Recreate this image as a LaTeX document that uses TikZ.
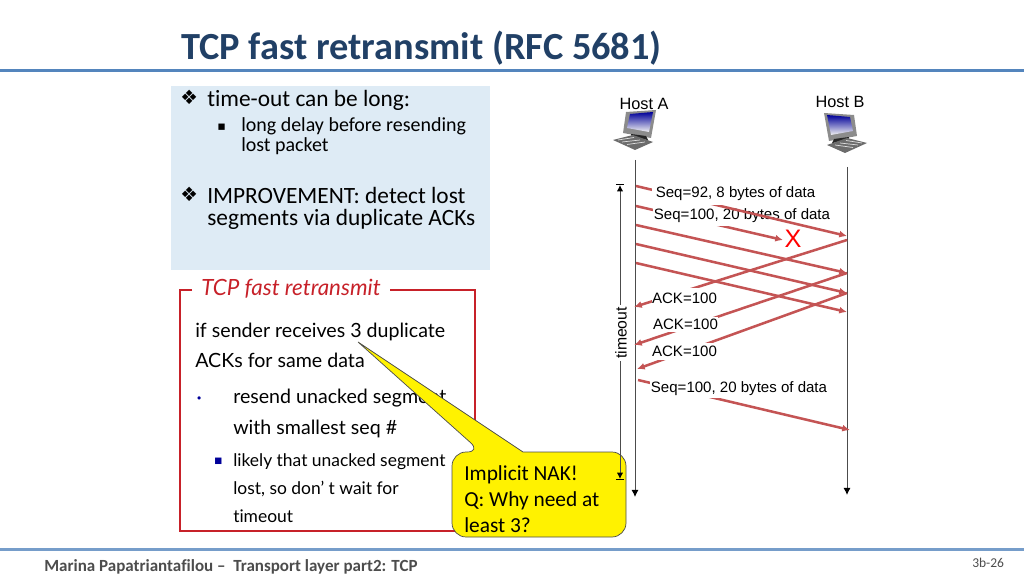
\documentclass[tikz,border=0pt]{standalone}
\usepackage{fontspec}
\setmainfont[Ligatures=NoCommon]{Carlito}
\newfontfamily\arialfont{Liberation Sans}
\newfontfamily\gillfont[Ligatures=NoCommon]{Lato}
\newfontfamily\symfont{DejaVu Sans}
\usetikzlibrary{arrows.meta,calc}
\definecolor{TitleClr}{rgb}{0.13,0.25,0.40}
\definecolor{RuleClr}{rgb}{0.33,0.52,0.74}
\definecolor{NoteClr}{rgb}{0.87,0.92,0.96}
\definecolor{FrameClr}{rgb}{0.78,0.13,0.16}
\definecolor{SegClr}{rgb}{0.77,0.33,0.33}
\definecolor{LineClr}{rgb}{0.30,0.30,0.30}
\definecolor{FootClr}{rgb}{0.30,0.30,0.30}
\definecolor{BulletClr}{rgb}{0,0,0.6}
\tikzset{
  seg/.style={color=SegClr,line width=1.8pt,-{Latex[length=5.5pt,width=5pt]}},
  timeline/.style={color=LineClr,line width=0.7pt,-{Latex[black,length=5pt,width=5pt]}},
  txt/.style={anchor=base west,inner sep=0pt,text=black},
  notetxt/.style={txt,font=\fontsize{16.6}{20}\selectfont},
  subtxt/.style={txt,font=\fontsize{14.2}{17}\selectfont},
  gilltxt/.style={txt,font=\gillfont\fontsize{13.95}{16}\selectfont},
  gillsub/.style={txt,font=\gillfont\fontsize{12.4}{14}\selectfont},
  nak/.style={txt,font=\fontsize{15.2}{18}\selectfont},
  hosttxt/.style={anchor=base,inner sep=0pt,font=\arialfont\fontsize{11.6}{14}\selectfont},
  seqtxt/.style={fill=white,inner sep=0pt,minimum height=14pt,font=\arialfont\fontsize{10.7}{12}\selectfont},
  hostpc/.pic={
    \fill[gray!90] (13,2) -- (43,0) -- (38,28) -- (10,23) -- cycle;
    \shade[top color=blue!60!black,bottom color=gray!10] (17,4) -- (40,2) -- (36,22) -- (14,18) -- cycle;
    \fill[black!85] (18,24) -- (33,26) -- (35,30) -- (19,28) -- cycle;
    \fill[gray!85!black] (0,30) -- (20,25) -- (40,32) -- (22,40) -- cycle;
    \draw[gray!25,line width=0.5pt] (5,30) -- (21,27.5) (9,32) -- (27,30) (14,34.5) -- (32,32);
  }
}

\begin{document}
\begin{tikzpicture}[x=0.025cm,y=-0.025cm]
\useasboundingbox (0,0) rectangle (1024,576);

% header and footer
\coordinate (ruleTL) at (0,70.5);
\coordinate (ruleTR) at (1024,70.5);
\coordinate (ruleBL) at (0,549.5);
\coordinate (ruleBR) at (1024,549.5);
\draw[RuleClr,line width=2pt] (ruleTL) -- (ruleTR);
\draw[RuleClr!80,line width=2pt] (ruleBL) -- (ruleBR);

\node[txt,text=TitleClr,font=\bfseries\fontsize{27.3}{30}\selectfont] (title) at (181,60) {TCP fast retransmit (RFC 5681)};
\node[txt,text=FootClr,font=\bfseries\fontsize{12.1}{14}\selectfont] (footer) at (44,571) {Marina Papatriantafilou --\ \ Transport layer part2: TCP};
\node[txt,text=FootClr,font=\fontsize{9.6}{12}\selectfont] (pageno) at (972,567) {3b-26};

% blue note
\fill[NoteClr] (171,86) rectangle (490,270);
\node[txt,font=\symfont\fontsize{14}{14}\selectfont] (bulA) at (180,105) {❖};
\node[notetxt] (noteA) at (207,107) {time-out can be long:};
\node[txt,font=\symfont\fontsize{9}{11}\selectfont] (bulB) at (217,131) {▪};
\node[subtxt] (noteB) at (241,132) {long delay before resending};
\node[subtxt] (noteC) at (241,152) {lost packet};
\node[txt,font=\symfont\fontsize{14}{14}\selectfont] (bulC) at (180,202) {❖};
\node[notetxt] (noteD) at (207,204) {IMPROVEMENT: detect lost};
\node[notetxt] (noteE) at (207,226) {segments via duplicate ACKs};

% red frame
\draw[FrameClr,line width=1pt] (192,290) -- (180,290) -- (180,531) -- (475,531) -- (475,290) -- (390,290);
\node[txt,text=FrameClr,font=\gillfont\itshape\fontsize{15.9}{18}\selectfont] (frameT) at (201,296) {TCP fast retransmit};
\node[gilltxt] (ruleA) at (195,337) {if sender receives 3 duplicate};
\node[gilltxt] (ruleB) at (195,367) {ACKs for same data};
\node[txt,text=BulletClr,font=\symfont\fontsize{3}{4}\selectfont] (bulD) at (197,399) {●};
\node[gilltxt] (ruleC) at (233,403) {resend unacked segment};
\node[gilltxt] (ruleD) at (233,434) {with smallest seq \#};
\node[txt,text=BulletClr,font=\symfont\fontsize{6}{8}\selectfont] (bulE) at (214,463) {■};
\node[gillsub] (ruleE) at (233,466) {likely that unacked segment};
\node[gillsub] (ruleF) at (233,494) {lost, so don’ t wait for};
\node[gillsub] (ruleG) at (233,522) {timeout};

% yellow callout
\coordinate (tip) at (358,342);
\draw[fill=yellow,draw=black!70,line width=0.5pt] (tip) -- (523,452) [rounded corners=10pt] -- (626,452) -- (626,537) -- (452,537) -- (452,452) -- (481,452) [sharp corners] -- cycle;
\node[nak] (nakA) at (464,480) {Implicit NAK!};
\node[nak] (nakB) at (464,506) {Q: Why need at};
\node[nak] (nakC) at (464,532) {least 3?};

% hosts
\node[hosttxt] (hostA) at (644,110) {Host A};
\node[hosttxt] (hostB) at (840,108) {Host B};
\pic at (613,110) {hostpc};
\pic[xscale=-1] at (867,113) {hostpc};

\coordinate (aTop) at (635,160);
\coordinate (aEnd) at (635,497);
\coordinate (bTop) at (847,167);
\coordinate (bEnd) at (847,495);
\draw[timeline] (aTop) -- (aEnd);
\draw[timeline] (bTop) -- (bEnd);

% timeout
\coordinate (toTop) at (620,184);
\coordinate (toEnd) at (620,480);
\draw[color=LineClr,line width=0.7pt,{Bar[black,width=6pt].Latex[black,length=4.5pt,width=4.5pt]}-{Latex[black,length=4.5pt,width=4.5pt].Bar[black,width=6pt]}] (toTop) -- (toEnd);
\node[fill=white,inner sep=1.5pt,rotate=90,font=\arialfont\fontsize{11.2}{13}\selectfont] (timeout) at (621,333) {timeout};

% segments
\coordinate (sA) at (636,206);
\coordinate (sB) at (783,240);
\draw[seg] (sA) -- (sB);
\node[seqtxt,minimum width=178pt*0.711] (seqB) at (742,216) {Seq=100, 20 bytes of data};

\coordinate (sC) at (636,186);
\coordinate (sD) at (847,236);
\draw[seg] (sC) -- (sD);
\node[seqtxt,minimum height=15pt,minimum width=168pt*0.711] (seqA) at (735.5,194) {Seq=92, 8 bytes of data};

\coordinate (sE) at (636,225);
\coordinate (sF) at (847,273);
\coordinate (sG) at (636,244);
\coordinate (sH) at (847,293);
\coordinate (sI) at (636,263);
\coordinate (sJ) at (847,312);
\draw[seg] (sE) -- (sF);
\draw[seg] (sG) -- (sH);
\draw[seg] (sI) -- (sJ);

% acks
\coordinate (kA) at (847,240);
\coordinate (kB) at (634,307);
\coordinate (kC) at (847,273);
\coordinate (kD) at (634,345);
\coordinate (kE) at (847,293);
\coordinate (kF) at (637,369);
\draw[seg] (kA) -- (kB);
\draw[seg] (kC) -- (kD);
\draw[seg] (kE) -- (kF);
\node[seqtxt,minimum height=14.5pt,minimum width=64pt*0.711] (ackA) at (684.5,298) {ACK=100};
\node[seqtxt,minimum height=11pt,minimum width=64pt*0.711] (ackB) at (685.5,324.5) {ACK=100};
\node[seqtxt,minimum height=12.5pt,minimum width=64pt*0.711] (ackC) at (684.5,351.5) {ACK=100};

% retransmission
\coordinate (rA) at (638,380);
\coordinate (rB) at (850,430);
\draw[seg] (rA) -- (rB);
\node[seqtxt,minimum width=178pt*0.711] (seqC) at (739,388.5) {Seq=100, 20 bytes of data};

\node[anchor=center,inner sep=0pt,text=red,font=\arialfont\fontsize{18}{20}\selectfont] (lost) at (793,239) {X};

\end{tikzpicture}
\end{document}
